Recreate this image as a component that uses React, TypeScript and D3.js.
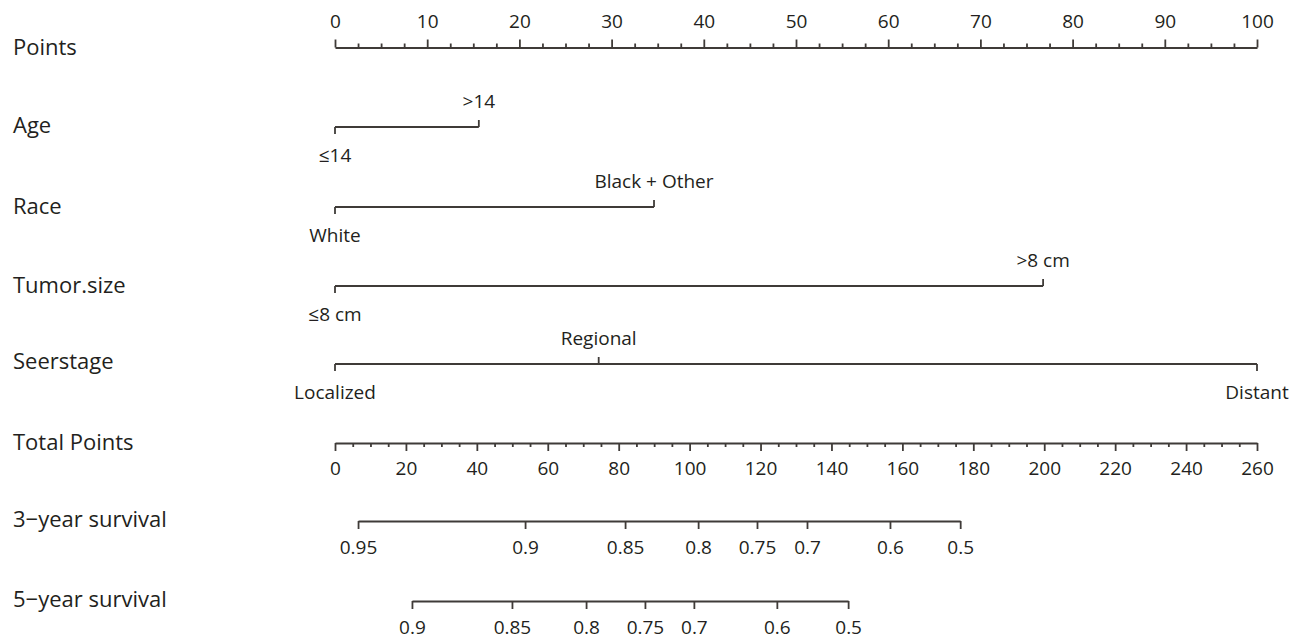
import React, { useEffect, useRef } from 'react';
import * as d3 from 'd3';

// scale ticks
const pointTicks = [0, 10, 20, 30, 40, 50, 60, 70, 80, 90, 100];
const totalTicks = [0, 20, 40, 60, 80, 100, 120, 140, 160, 180, 200, 220, 240, 260];

// predictor levels and their points (0-100)
const ageLevels = ['≤14', '>14'];
const agePoints = [0, 15.6];
const raceLevels = ['White', 'Black + Other'];
const racePoints = [0, 34.6];
const sizeLevels = ['≤8 cm', '>8 cm'];
const sizePoints = [0, 76.8];
const stageLevels = ['Localized', 'Regional', 'Distant'];
const stagePoints = [0, 28.6, 100];

// survival probabilities and the total points they sit at
const surv3Labels = ['0.95', '0.9', '0.85', '0.8', '0.75', '0.7', '0.6', '0.5'];
const surv3Total = [6.5, 53.6, 81.8, 102.4, 119.0, 133.1, 156.5, 176.3];
const surv5Labels = ['0.9', '0.85', '0.8', '0.75', '0.7', '0.6', '0.5'];
const surv5Total = [21.7, 49.9, 70.8, 87.4, 101.2, 124.6, 144.7];

const FONT = '"Open Sans", "DejaVu Sans", sans-serif';
const LINE = '#3f3b38';
const TEXT = '#231f20';

export default function App() {
  const ref = useRef<SVGSVGElement>(null);

  useEffect(() => {
    const svg = d3.select(ref.current);
    svg.selectAll('*').remove();

    const x0 = 335, x1 = 1257;
    const pointsX = d3.scaleLinear().domain([0, 100]).range([x0, x1]);
    const totalX = d3.scaleLinear().domain([0, 260]).range([x0, x1]);

    const style = (g) => {
      g.selectAll('path').attr('stroke', LINE).attr('stroke-width', 1.8);
      g.selectAll('line').attr('stroke', LINE).attr('stroke-width', 1.8);
      g.selectAll('text').attr('fill', TEXT).style('font-family', FONT).style('font-size', '19px');
    };

    // left labels
    const rows = [
      ['Points', 55], ['Age', 133], ['Race', 214], ['Tumor.size', 293], ['Seerstage', 369],
      ['Total Points', 450], ['3\u2212year survival', 527], ['5\u2212year survival', 607]
    ];
    svg.append('g').selectAll('text').data(rows).enter().append('text')
      .attr('x', 13).attr('y', d => d[1])
      .attr('fill', TEXT).style('font-family', FONT).style('font-size', '22px')
      .text(d => d[0]);

    // Points axis
    const pMinor = d3.range(0, 100.1, 2.5).filter(v => v % 10 !== 0);
    const pg = svg.append('g').attr('transform', 'translate(0,47.5)');
    pg.append('g').call(d3.axisTop(pointsX).tickValues(pointTicks).tickSize(8).tickSizeOuter(0).tickPadding(12).tickFormat(d3.format('d'))).call(style);
    const pm = pg.append('g').call(d3.axisTop(pointsX).tickValues(pMinor).tickSize(4).tickFormat(() => ''));
    pm.select('.domain').remove();
    style(pm);

    // Total points axis
    const tMinor = d3.range(0, 260.1, 5).filter(v => v % 20 !== 0);
    const tg = svg.append('g').attr('transform', 'translate(0,443)');
    tg.append('g').call(d3.axisBottom(totalX).tickValues(totalTicks).tickSize(8).tickSizeOuter(0).tickPadding(11).tickFormat(d3.format('d'))).call(style);
    const tm = tg.append('g').call(d3.axisBottom(totalX).tickValues(tMinor).tickSize(4).tickFormat(() => ''));
    tm.select('.domain').remove();
    style(tm);

    // categorical predictors
    const cat = (levels, pts, y) => {
      const g = svg.append('g').attr('transform', `translate(0,${y})`);
      g.append('line')
        .attr('x1', pointsX(d3.min(pts))).attr('x2', pointsX(d3.max(pts)))
        .attr('stroke', LINE).attr('stroke-width', 1.8);
      levels.forEach((lab, i) => {
        const up = i % 2 === 1;
        const x = pointsX(pts[i]);
        g.append('line').attr('x1', x).attr('x2', x).attr('y1', 0).attr('y2', up ? -7 : 7)
          .attr('stroke', LINE).attr('stroke-width', 1.8);
        g.append('text').attr('x', x).attr('y', up ? -19 : 35)
          .attr('text-anchor', 'middle').attr('fill', TEXT)
          .style('font-family', FONT).style('font-size', '19px')
          .text(lab);
      });
    };
    cat(ageLevels, agePoints, 127);
    cat(raceLevels, racePoints, 207);
    cat(sizeLevels, sizePoints, 286);
    cat(stageLevels, stagePoints, 364);

    // survival axes
    const surv = (labels, totals, y) => {
      const ext = d3.extent(totals);
      const sx = d3.scaleLinear().domain(ext).range(ext.map(totalX));
      svg.append('g').attr('transform', `translate(0,${y})`)
        .call(d3.axisBottom(sx).tickValues(totals).tickSize(8).tickSizeOuter(0).tickPadding(12)
          .tickFormat((d, i) => labels[i]))
        .call(style);
    };
    surv(surv3Labels, surv3Total, 521);
    surv(surv5Labels, surv5Total, 601);
  }, []);

  return (
    <svg ref={ref} width={1302} height={639}
      style={{ position: 'absolute', left: 0, top: 0, background: '#fff' }} />
  );
}
